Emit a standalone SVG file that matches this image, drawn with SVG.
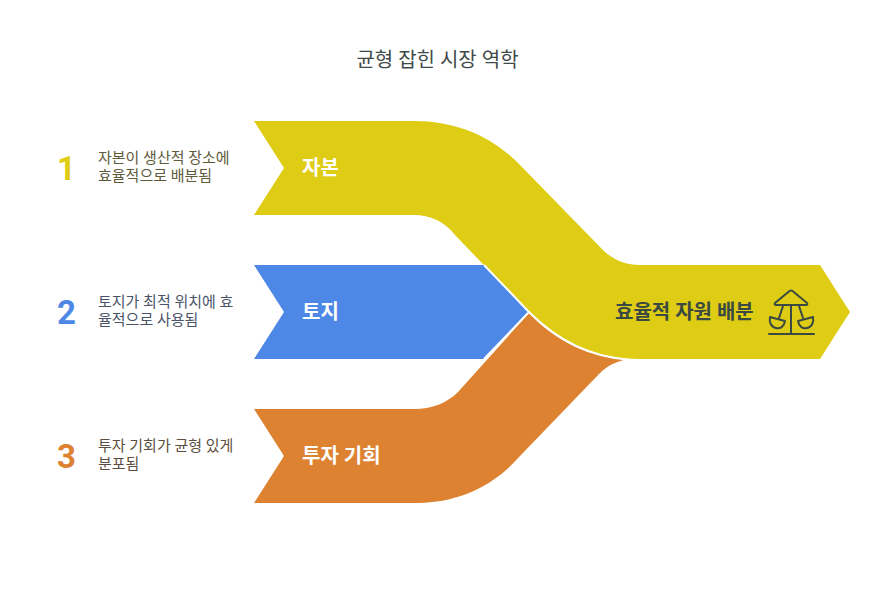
<svg xmlns="http://www.w3.org/2000/svg" width="877" height="600" viewBox="0 0 877 600">
<style>
text{font-family:"Roboto","Noto Sans CJK KR",sans-serif}
.t{font-size:20px;fill:#3f4a4a}
.l{font-size:20px;font-weight:700;fill:#fff}
.n{font-size:33px;font-weight:700}
.d{font-size:15px}
.seam{fill:none;stroke:#fff;stroke-width:2}
.ic{fill:none;stroke:#3a4a42;stroke-width:2;stroke-linecap:round;stroke-linejoin:round}
</style>
<rect width="877" height="600" fill="#fff"/>
<text class="t" x="437.500" y="67" text-anchor="middle">균형 잡힌 시장 역학</text>
<g id="node-invest">
<path d="M254 409H414C432 409 447 403 458 392L529 313C555 341 590 358 628 359C618 361 608 365 600 373L520 456C492 488 456 503 414 503H254L284 456Z" fill="#dd8230"/>
<text class="l" x="302" y="463">투자 기회</text>
</g>
<g id="node-land">
<path d="M254 265H484L529 312L484 359H254L284 312Z" fill="#4e88e7"/>
<text class="l" x="302" y="319">토지</text>
</g>
<g id="node-capital">
<path d="M254 121H414C456 121 492 136 520 165L600 247C611 259 624 265 640 265H820L850 312L820 359H640C597 359 559 342 529 312L455 235C444 221 430 215 414 215H254L284 168Z" fill="#dfcc14"/>
<text class="l" x="302" y="175">자본</text>
<text x="615" y="319" style="font-size:20px;font-weight:700;fill:#3a4a42">효율적 자원 배분</text>
<g class="ic">
<path d="M792.500 291L807 303Q808 305 806 305H776Q774 305 775 303L789.500 291Q791 290 792.500 291Z"/>
<path d="M791 305V334M769 334H814M783 306L779 318M799 306L803 318"/>
<path d="M770 317L785 321C784 327 780 329 776 328C771 327 769 322 770 317Z"/>
<path d="M813 317L798 321C799 327 803 329 807 328C812 327 814 322 813 317Z"/>
</g>
</g>
<g id="connectors">
<path class="seam" d="M484 265L529 312L484 359"/>
<path class="seam" d="M529 312C556 339 590 357 628 359.500"/>
</g>
<g id="item-1">
<text class="n" x="57" y="180" fill="#dfcc14">1</text>
<text class="d" fill="#5e5a3c"><tspan x="98" y="163">자본이 생산적 장소에</tspan><tspan x="98" y="181">효율적으로 배분됨</tspan></text>
</g>
<g id="item-2">
<text class="n" x="57" y="324" fill="#4e88e7">2</text>
<text class="d" fill="#4a5468"><tspan x="98" y="307">토지가 최적 위치에 효</tspan><tspan x="98" y="325">율적으로 사용됨</tspan></text>
</g>
<g id="item-3">
<text class="n" x="57" y="468" fill="#dd8230">3</text>
<text class="d" fill="#5c4e40"><tspan x="98" y="451">투자 기회가 균형 있게</tspan><tspan x="98" y="469">분포됨</tspan></text>
</g>
</svg>
